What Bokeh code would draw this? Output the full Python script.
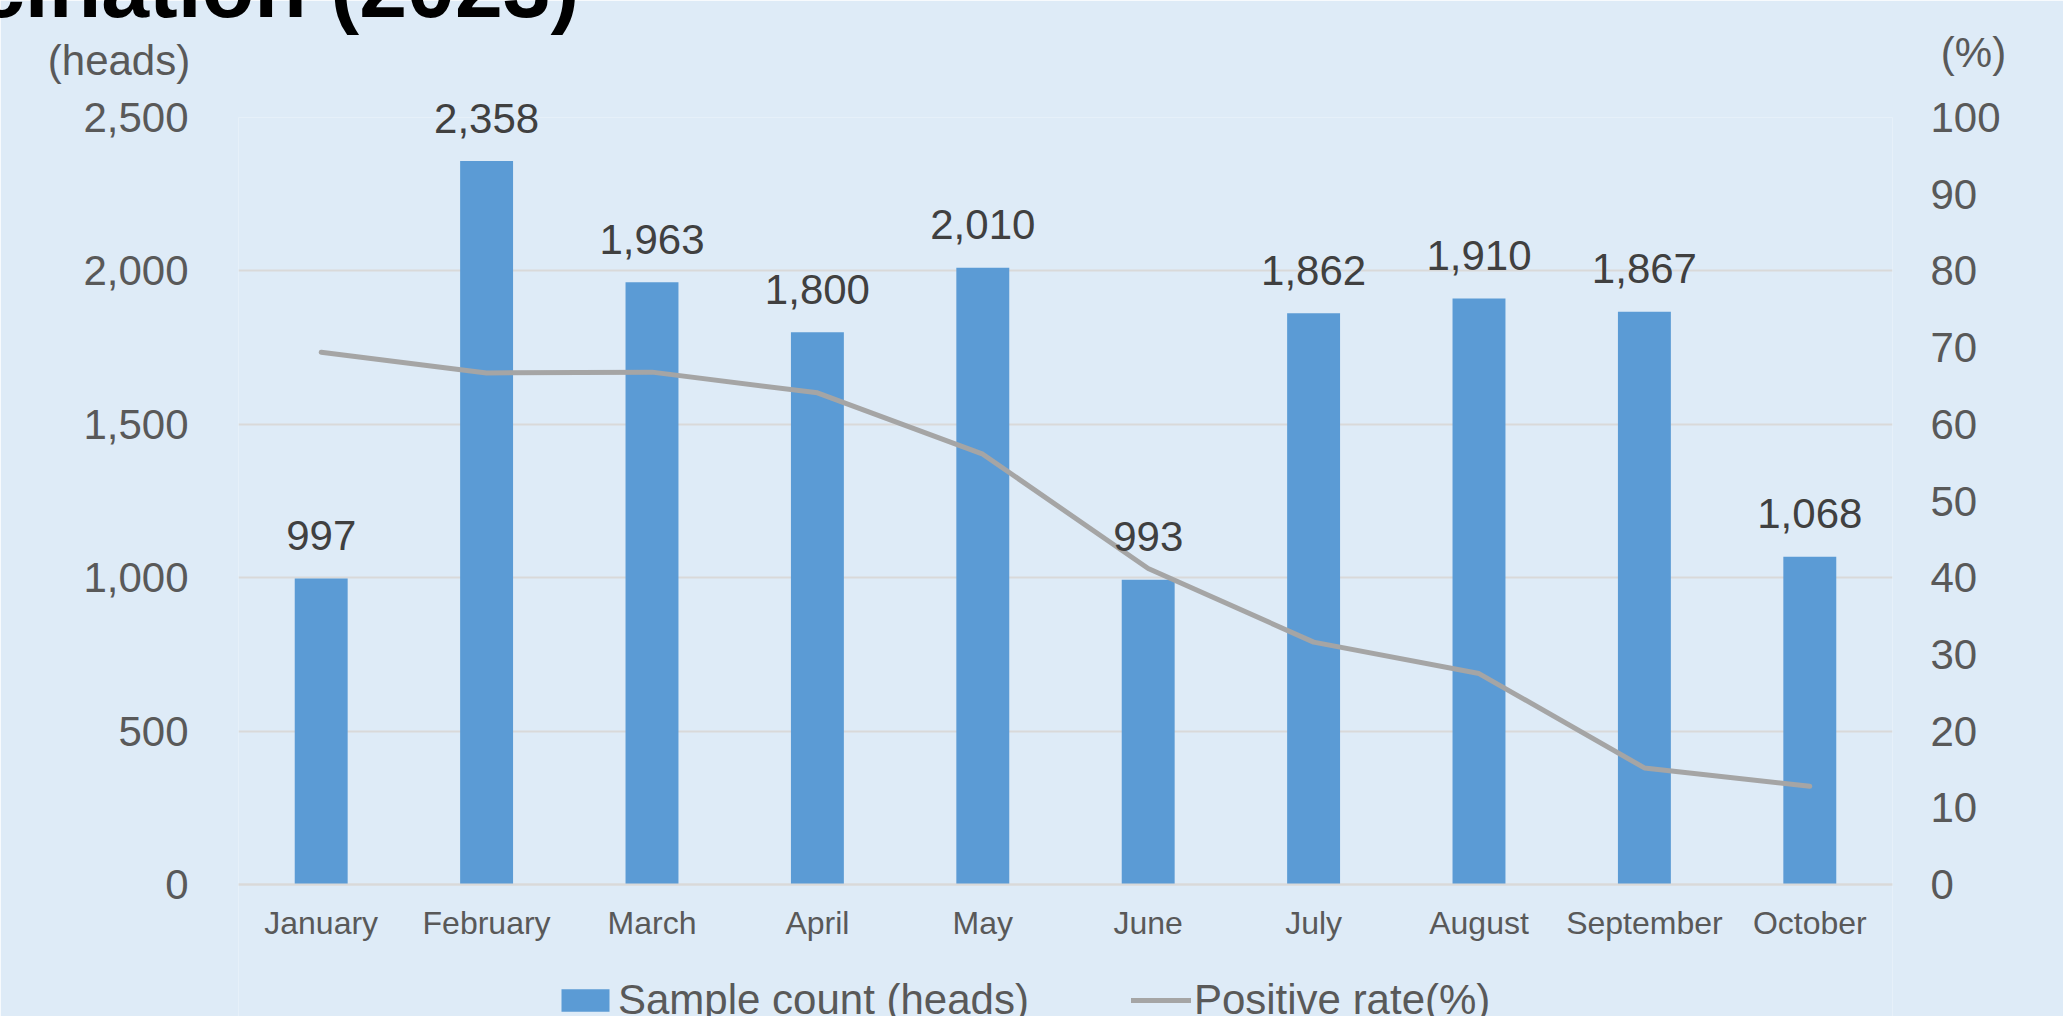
from bokeh.plotting import figure
from bokeh.models import (ColumnDataSource, FactorRange, Range1d, LinearAxis, FixedTicker,
                          NumeralTickFormatter, Legend, LegendItem)
from bokeh.core.properties import value
from bokeh.embed import file_html
from bokeh.resources import INLINE

# ---- data ----
months = ["January", "February", "March", "April", "May", "June",
          "July", "August", "September", "October"]
sample_counts = [997, 2358, 1963, 1800, 2010, 993, 1862, 1910, 1867, 1068]
positive_rates = [69.4, 66.7, 66.8, 64.1, 56.1, 41.2, 31.6, 27.5, 15.2, 12.8]
left_ticks = [0, 500, 1000, 1500, 2000, 2500]
right_ticks = [0, 10, 20, 30, 40, 50, 60, 70, 80, 90, 100]
title_text = "Vaccination (2023)"
left_unit = "(heads)"
right_unit = "(%)"
bar_series = "Sample count (heads)"
line_series = "Positive rate(%)"

FONT = "Liberation Sans"
BG = "#DEEBF7"
GRID = "#D9D9D9"
TICK_COLOR = "#595959"

# layout: the value axis spans 767 px; the frame continues 132 px below zero
AXIS_PX = 767
BELOW_PX = 132
left_min = -left_ticks[-1] * BELOW_PX / AXIS_PX
right_min = -right_ticks[-1] * BELOW_PX / AXIS_PX

src = ColumnDataSource(dict(
    month=months,
    count=sample_counts,
    rate=positive_rates,
    label=[f"{v:,}" for v in sample_counts],
))

p = figure(width=2063, height=1016,
           x_range=FactorRange(*months, range_padding=0),
           y_range=Range1d(left_min, left_ticks[-1]),
           output_backend="svg", toolbar_location=None,
           min_border_left=238, min_border_right=171,
           min_border_top=117, min_border_bottom=0)
p.extra_y_ranges = {"pct": Range1d(right_min, right_ticks[-1])}

p.background_fill_color = BG
p.border_fill_color = BG
p.outline_line_color = None

# bars
bars = p.vbar(x="month", top="count", bottom=0, width=0.32, source=src,
              fill_color="#5B9BD5", line_color=None)

# line
line = p.line(x="month", y="rate", source=src, y_range_name="pct",
              line_color="#A5A5A5", line_width=5, line_join="round", line_cap="round")

# data labels
p.text(x="month", y="count", text="label", source=src, level="overlay",
       text_font=value(FONT), text_font_size="42px", text_color="#404040",
       text_align="center", text_baseline="middle", y_offset=-43)

# category axis, drawn at value 0
p.xaxis.fixed_location = 0
p.xaxis.major_label_text_font = FONT
p.xaxis.major_label_text_font_size = "32px"
p.xaxis.major_label_text_color = TICK_COLOR
p.xaxis.major_tick_line_color = None
p.xaxis.major_tick_out = 0
p.xaxis.major_tick_in = 0
p.xaxis.minor_tick_line_color = None
p.xaxis.axis_line_color = GRID
p.xaxis.axis_line_width = 2
p.xaxis.major_label_standoff = 20

p.yaxis.ticker = FixedTicker(ticks=left_ticks)
p.yaxis.formatter = NumeralTickFormatter(format="0,0")
p.yaxis.major_label_text_font = FONT
p.yaxis.major_label_text_font_size = "42px"
p.yaxis.major_label_text_color = TICK_COLOR
p.yaxis.major_tick_line_color = None
p.yaxis.major_tick_out = 0
p.yaxis.major_tick_in = 0
p.yaxis.minor_tick_line_color = None
p.yaxis.minor_tick_out = 0
p.yaxis.axis_line_color = None
p.yaxis.major_label_standoff = 50

raxis = LinearAxis(y_range_name="pct", ticker=FixedTicker(ticks=right_ticks),
                   major_label_text_font=FONT, major_label_text_font_size="42px",
                   major_label_text_color=TICK_COLOR, major_tick_line_color=None,
                   major_tick_out=0, major_tick_in=0, minor_tick_out=0,
                   minor_tick_line_color=None, axis_line_color=None,
                   major_label_standoff=38)
p.add_layout(raxis, "right")

p.xgrid.visible = False
p.ygrid.grid_line_color = GRID
p.ygrid.grid_line_width = 2

# title and unit texts, anchored to the plot corners and drawn on the overlay level
p.text(x=[months[0]], y=[left_ticks[-1]], text=[title_text], level="overlay",
       text_font=value(FONT), text_font_size="86px", text_font_style="bold",
       text_color="#000000", text_align="right", text_baseline="middle",
       x_offset=258, y_offset=-131)
p.text(x=[months[0]], y=[left_ticks[-1]], text=[left_unit], level="overlay",
       text_font=value(FONT), text_font_size="42px", text_color=TICK_COLOR,
       text_align="right", text_baseline="middle", x_offset=-131, y_offset=-57)
p.text(x=[months[-1]], y=[left_ticks[-1]], text=[right_unit], level="overlay",
       text_font=value(FONT), text_font_size="42px", text_color=TICK_COLOR,
       text_align="left", text_baseline="middle", x_offset=131, y_offset=-65)

legend = Legend(items=[LegendItem(label=bar_series, renderers=[bars]),
                       LegendItem(label=line_series, renderers=[line])],
                orientation="horizontal", location=(317, -8),
                label_text_font=FONT, label_text_font_size="42px",
                label_text_color=TICK_COLOR, glyph_width=60, glyph_height=28,
                label_standoff=3, spacing=102, padding=0, margin=0,
                border_line_color=None, background_fill_alpha=0)
p.add_layout(legend)

open("out.html", "w").write(file_html(p, INLINE))
